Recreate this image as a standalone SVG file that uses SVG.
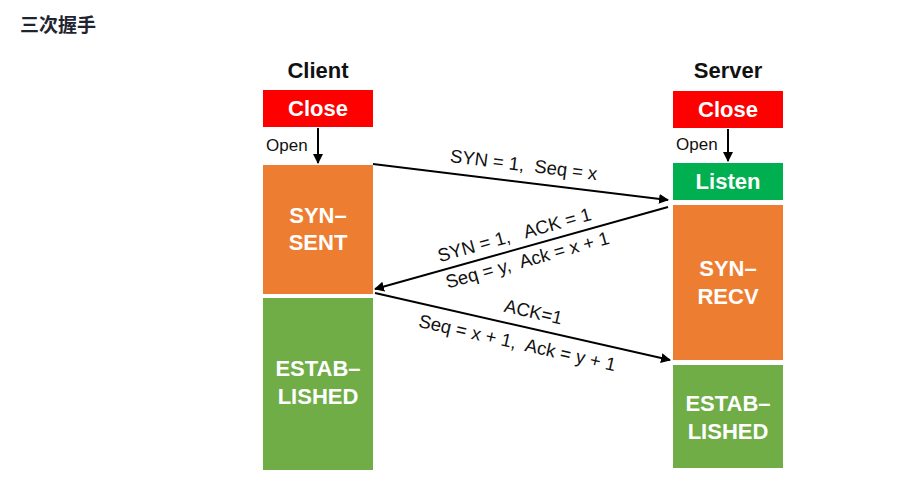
<svg xmlns="http://www.w3.org/2000/svg" width="899" height="485" viewBox="0 0 899 485">
<style>
.t{font-family:"Liberation Sans","Noto Sans CJK SC",Arial,sans-serif}
.h{font-size:22px;font-weight:bold;fill:#111;text-anchor:middle}
.s{font-size:22px;font-weight:bold;fill:#fff;text-anchor:middle}
.o{font-size:17px;fill:#111}
.l{font-size:18.5px;fill:#111;text-anchor:middle;white-space:pre}
.c{stroke:#000;stroke-width:2;fill:none;marker-end:url(#ah)}
</style>
<defs>
<marker id="ah" viewBox="0 0 10 10" refX="9" refY="5" markerWidth="5" markerHeight="5" orient="auto" markerUnits="strokeWidth">
<path d="M0,0 L10,5 L0,10 z" fill="#000"/>
</marker>
</defs>
<rect width="899" height="485" fill="#fff"/>
<text x="20" y="32" class="t" style="font-size:19px;font-weight:bold;fill:#1f2530;font-family:'Noto Sans CJK SC',sans-serif">三次握手</text>
<text x="318" y="78" class="t h">Client</text>
<text x="728" y="78" class="t h">Server</text>
<g id="client-close"><rect x="263" y="90" width="110" height="37" fill="#FF0000"/><text x="318" y="116" class="t s">Close</text></g>
<g id="client-synsent"><rect x="263" y="165" width="110" height="129" fill="#ED7D31"/><text x="318" y="223" class="t s">SYN–</text><text x="318" y="250" class="t s">SENT</text></g>
<g id="client-established"><rect x="263" y="298" width="110" height="172" fill="#70AD47"/><text x="318" y="376" class="t s">ESTAB–</text><text x="318" y="404" class="t s">LISHED</text></g>
<g id="server-close"><rect x="673" y="91" width="110" height="37" fill="#FF0000"/><text x="728" y="117" class="t s">Close</text></g>
<g id="server-listen"><rect x="673" y="163" width="110" height="37" fill="#00B050"/><text x="728" y="189" class="t s">Listen</text></g>
<g id="server-synrecv"><rect x="673" y="205" width="110" height="155" fill="#ED7D31"/><text x="728" y="276" class="t s">SYN–</text><text x="728" y="304" class="t s">RECV</text></g>
<g id="server-established"><rect x="673" y="365" width="110" height="103" fill="#70AD47"/><text x="728" y="411" class="t s">ESTAB–</text><text x="728" y="439" class="t s">LISHED</text></g>
<g id="connectors">
<line x1="318" y1="128" x2="318" y2="163" class="c"/>
<text x="266" y="151" class="t o">Open</text>
<line x1="728" y1="129" x2="728" y2="161" class="c"/>
<text x="676" y="150" class="t o">Open</text>
<line x1="373" y1="164" x2="668" y2="200" class="c"/>
<text transform="translate(523,171) rotate(7)" class="t l" xml:space="preserve">SYN = 1,  Seq = x</text>
<line x1="668" y1="207" x2="375" y2="289" class="c"/>
<text transform="translate(516,241) rotate(-15.5)" class="t l" xml:space="preserve">SYN = 1,   ACK = 1</text>
<text transform="translate(529,266) rotate(-15.5)" class="t l" xml:space="preserve">Seq = y,  Ack = x + 1</text>
<line x1="375" y1="293" x2="670" y2="360" class="c"/>
<text transform="translate(532,318) rotate(12.8)" class="t l">ACK=1</text>
<text transform="translate(516,349) rotate(12.8)" class="t l" xml:space="preserve">Seq = x + 1,  Ack = y + 1</text>
</g>
</svg>
